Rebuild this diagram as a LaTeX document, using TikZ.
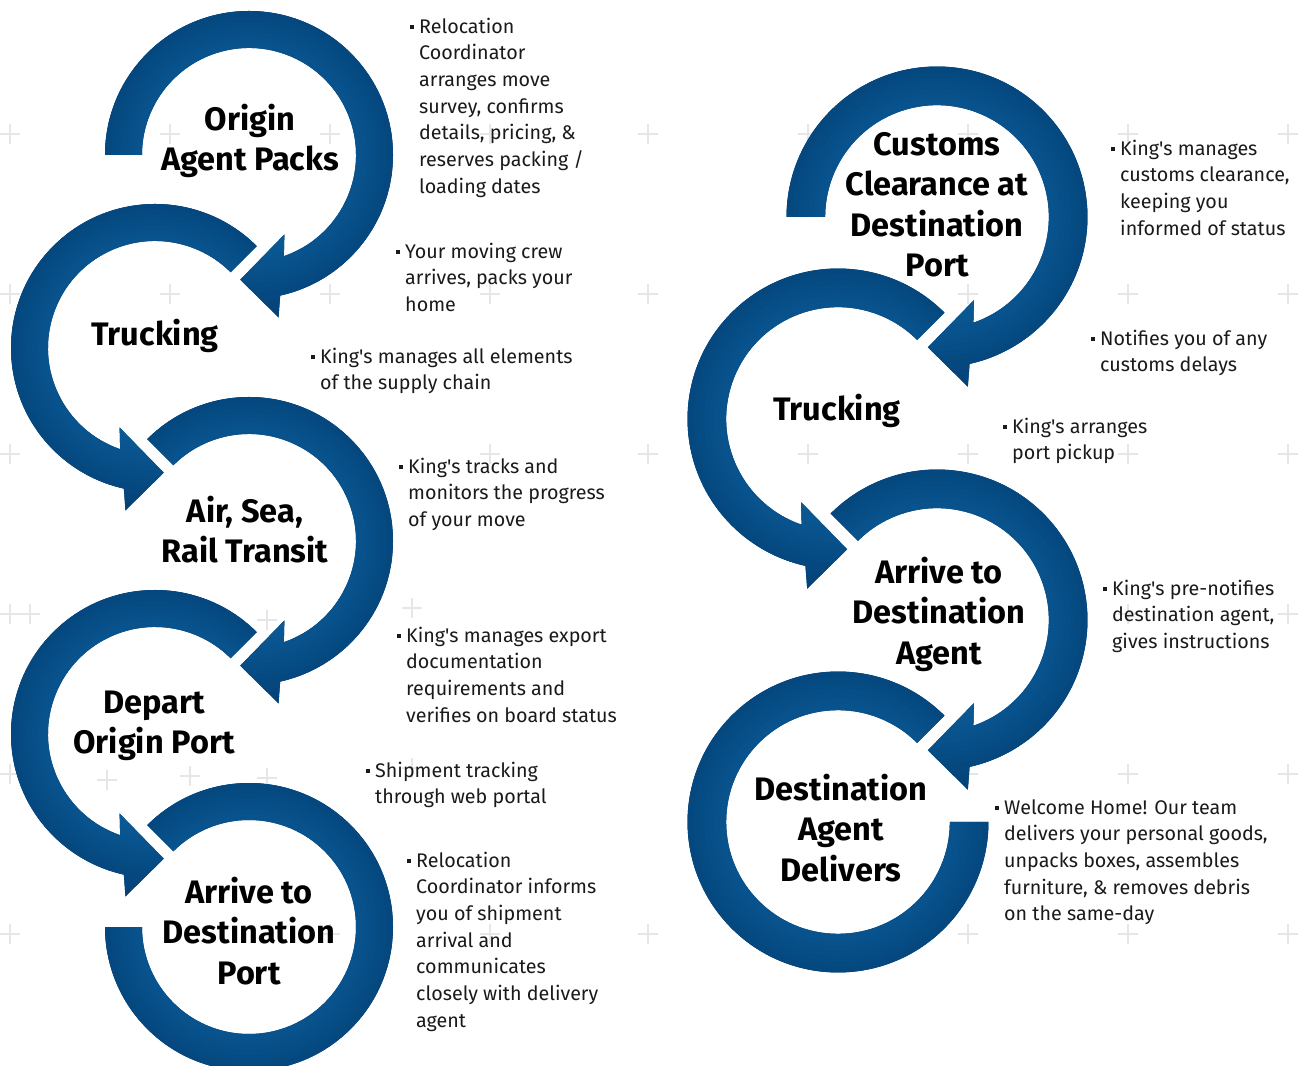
\documentclass[tikz,border=0pt]{standalone}
\usepackage{fontspec}
\setmainfont{Fira Sans}
\usetikzlibrary{positioning}

\definecolor{ringlight}{HTML}{0B5B97}
\definecolor{ringdark}{HTML}{023F74}
\definecolor{plusgray}{HTML}{E6E6E6}
\definecolor{notegray}{HTML}{1A1A1A}

% ring outlines, centred on (0,0), outer radius 144
\newcommand{\cwring}[1]{(#1:144) arc[start angle=#1, end angle=-77.5, radius=144]
  -- (-79.7:165) -- (-94:125) -- (-66:87) -- (-71:107)
  arc[start angle=-71, end angle=#1, radius=107] -- cycle}
\newcommand{\ccwring}[1]{(#1:144) arc[start angle=#1, end angle=257.5, radius=144]
  -- (259.7:165) -- (274:125) -- (246:87) -- (251:107)
  arc[start angle=251, end angle=#1, radius=107] -- cycle}
\newcommand{\openring}[2]{(#1:144) arc[start angle=#1, end angle=#2, radius=144]
  -- (#2:107) arc[start angle=#2, end angle=#1, radius=107] -- cycle}
\newcommand{\ringband}[3]{%
  \begin{scope}[shift={#1}, scale=#2]
    \clip #3;
    \fill[ringdark] (0,0) circle (172);
    \foreach \i in {0,...,16} {
      \pgfmathsetmacro\rr{86+5*\i}
      \pgfmathsetmacro\mix{100-6*\i}
      \draw[line width=5.6, ringlight!\mix!ringdark] (0,0) circle (\rr);
    }
  \end{scope}}
\newcommand{\notebullet}{\llap{\rule[3.8pt]{4.2pt}{4.2pt}\hspace{5pt}}\strut}
\newcommand{\ap}{\textquotesingle}

\tikzset{
  step title/.style={anchor=north, align=center, inner sep=0pt,
    font=\fontsize{32.5}{40.5}\selectfont\bfseries},
  step note/.style={anchor=north west, align=left, inner sep=0pt, text=notegray,
    font=\fontsize{19.7}{26.7}\selectfont},
  plus mark/.style={draw=plusgray, line width=1.6pt}
}

\begin{document}
\begin{tikzpicture}[x=1pt, y=1pt]
  \fill[white] (0,0) rectangle (1305,1065);
  \useasboundingbox (0,0) rectangle (1305,1065);

  % background crosses (pixel positions, y from the top)
  \foreach \px/\py in {10/134,170/134,330/134,490/134,648/134,808/134,968/134,1128/134,1288/134,
      10/294,170/294,330/294,490/294,648/294,968/294,1128/294,1288/294,
      10/454,490/454,648/454,808/454,968/454,1128/454,1288/454,
      10/614,30/614,267/620,412/608,1128/614,1288/614,
      10/774,107/780,190/776,267/778,412/768,968/774,1128/774,1288/774,
      10/934,330/934,490/934,648/934,968/934,1128/934,1288/934}
    \draw[plus mark] (\px-10,1065-\py) -- ++(20,0) (\px,1055-\py) -- ++(0,20);

  % left column
  \ringband{(249,910)}{1}{\cwring{180}}
  \ringband{(155,717)}{1}{\ccwring{45}}
  \ringband{(249,524)}{1}{\cwring{135}}
  \ringband{(155,331)}{1}{\ccwring{45}}
  \ringband{(249,138)}{1}{\openring{135}{-180}}

  % right column
  \ringband{(937,848)}{1.045}{\cwring{180}}
  \ringband{(838,646)}{1.045}{\ccwring{45}}
  \ringband{(937,445)}{1.045}{\cwring{135}}
  \ringband{(838,243)}{1.045}{\openring{45}{360}}

  % step titles
  \node[step title] (packs) at (250,963.35) {\strut Origin\\Agent Packs};
  \node[step title] (truckA) at (155,748.35) {\strut Trucking};
  \node[step title] (transit) at (245,571.35) {\strut Air, Sea,\\Rail Transit};
  \node[step title] (depart) at (154,380.35) {\strut Depart\\Origin Port};
  \node[step title] (arrive) at (249,190.35) {\strut Arrive to\\Destination\\Port};
  \node[step title] (customs) at (937,938.35) {\strut Customs\\Clearance at\\Destination\\Port};
  \node[step title] (truckB) at (837,673.35) {\strut Trucking};
  \node[step title] (agent) at (939,510.35) {\strut Arrive to\\Destination\\Agent};
  \node[step title] (deliver) at (841,293.35) {\strut Destination\\Agent\\Delivers};

  % notes
  \node[step note] (packs-note) at (419,1050.7) {\notebullet Relocation\\Coordinator\\arranges move\\survey, confirms\\details, pricing, \&\\reserves packing /\\loading dates};
  \node[step note] (truckA-note) at (405,825.7) {\notebullet Your moving crew\\arrives, packs your\\home};
  \node[step note] (chain-note) at (320,720.7) {\notebullet King\ap s manages all elements\\of the supply chain};
  \node[step note] (transit-note) at (408,610.7) {\notebullet King\ap s tracks and\\monitors the progress\\of your move};
  \node[step note] (depart-note) at (406,441.7) {\notebullet King\ap s manages export\\documentation\\requirements and\\verifies on board status};
  \node[step note] (web-note) at (375,306.7) {\notebullet Shipment tracking\\through web portal};
  \node[step note] (arrive-note) at (416,216.7) {\notebullet Relocation\\Coordinator informs\\you of shipment\\arrival and\\communicates\\closely with delivery\\agent};
  \node[step note] (customs-note) at (1120,928.7) {\notebullet King\ap s manages\\customs clearance,\\keeping you\\informed of status};
  \node[step note] (delay-note) at (1100,738.7) {\notebullet Notifies you of any\\customs delays};
  \node[step note] (truckB-note) at (1012,650.7) {\notebullet King\ap s arranges\\port pickup};
  \node[step note] (agent-note) at (1112,488.7) {\notebullet King\ap s pre-notifies\\destination agent,\\gives instructions};
  \node[step note] (deliver-note) at (1004,269.7) {\notebullet Welcome Home! Our team\\delivers your personal goods,\\unpacks boxes, assembles\\furniture, \& removes debris\\on the same-day};
\end{tikzpicture}
\end{document}
